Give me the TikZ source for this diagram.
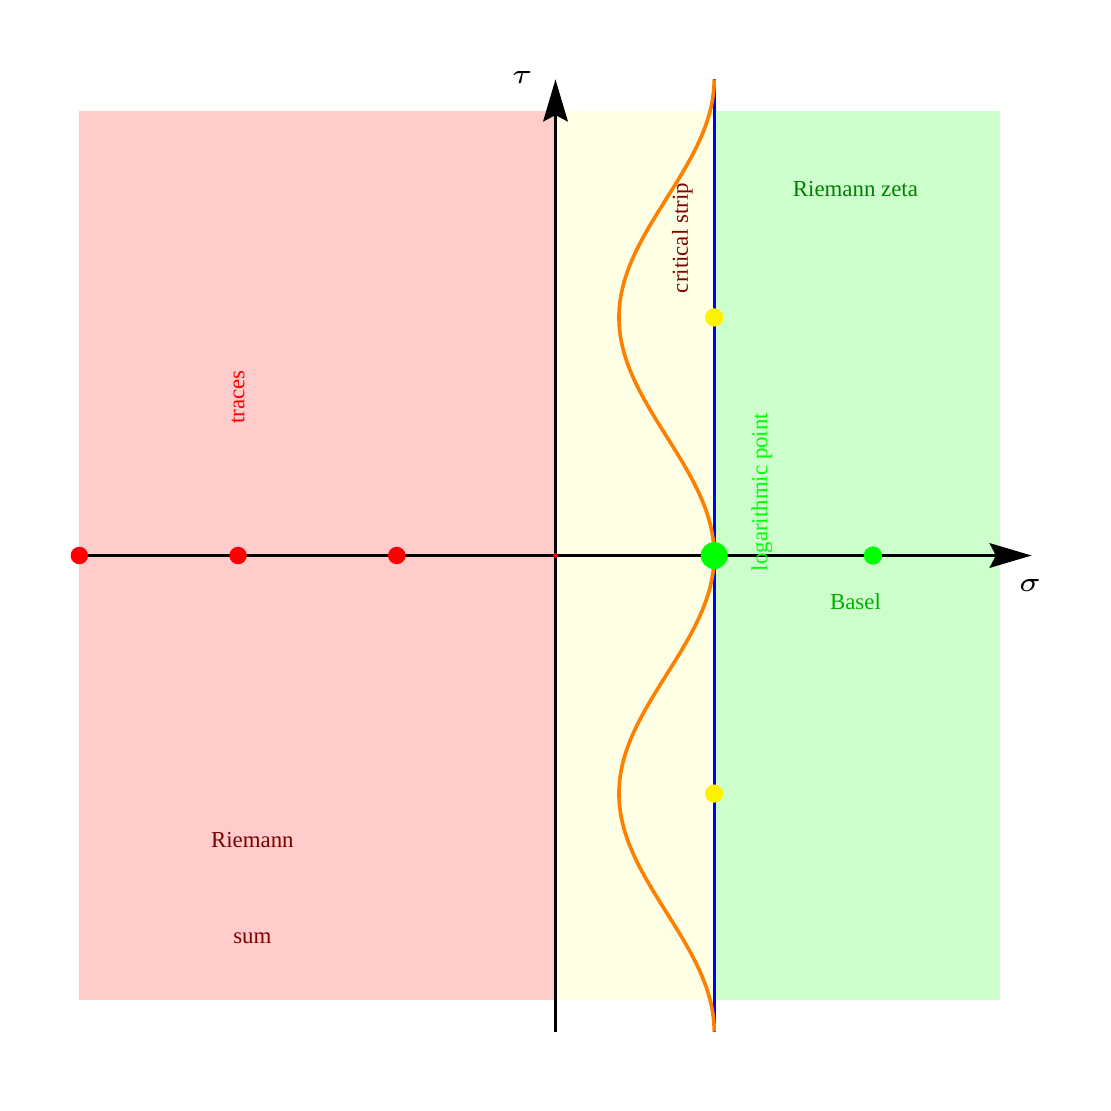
\documentclass[tikz,border=0pt]{standalone}
\usepackage{fontspec}
\setmainfont{Liberation Serif}
\usetikzlibrary{arrows.meta}
\definecolor{regred}{HTML}{FFCCCC}
\definecolor{regyel}{HTML}{FFFFE6}
\definecolor{reggrn}{HTML}{CCFFCC}
\definecolor{orng}{HTML}{FF8000}
\definecolor{dred}{HTML}{800000}
\definecolor{dgrn}{HTML}{008000}
\definecolor{mgrn}{HTML}{00B000}
\begin{document}
\begin{tikzpicture}[
  lbl/.style={font=\fontsize{4.1}{5}\selectfont, inner sep=0pt},
  mlbl/.style={font=\fontsize{4.6}{5}\selectfont, inner sep=0pt},
  dot/.style={circle, inner sep=0pt, minimum size=#1},
  axis/.style={line width=0.5pt, -{Stealth[length=0.265cm, width=0.155cm, inset=0.04cm]}}
]
\useasboundingbox (-3.5,-3.5) rectangle (3.5,3.5);
\fill[regred] (-3,-2.8) rectangle (0,2.8);
\fill[regyel] (0,-2.8) rectangle (1,2.8);
\fill[reggrn] (1,-2.8) rectangle (2.8,2.8);
\coordinate (xs) at (-3,0);
\coordinate (xe) at (3,0);
\coordinate (ys) at (0,-3);
\coordinate (ye) at (0,3);
\coordinate (bs) at (1,-3);
\coordinate (be) at (1,3);
\draw[line width=0.6pt] (xs) -- (2.8,0);
\draw[axis] (2.7,0) -- (xe);
\draw[line width=0.4pt] (ys) -- (0,2.8);
\draw[axis] (0,2.7) -- (ye);
\draw[blue, line width=0.6pt] (bs) -- (be);
\draw[orng, line width=0.65pt, domain=-3:3, samples=150, smooth, variable=\t]
  plot ({0.7+0.3*cos(120*\t)}, {\t});
\node[dot=0.11cm, fill=red] (m3) at (-3,0) {};
\node[dot=0.11cm, fill=red] (m2) at (-2,0) {};
\node[dot=0.11cm, fill=red] (m1) at (-1,0) {};
\node[dot=0.03cm, fill=red] (o) at (0,0) {};
\node[dot=0.17cm, fill=green] (lp) at (1,0) {};
\node[dot=0.115cm, fill=green] (ba) at (2,0) {};
\node[dot=0.115cm, fill=yellow] (y1) at (1,1.5) {};
\node[dot=0.115cm, fill=yellow] (y2) at (1,-1.5) {};
\node[mlbl] (tau) at (-0.21,3.01) {$\tau$};
\node[mlbl] (sig) at (2.99,-0.19) {$\sigma$};
\node[lbl, text=dgrn] (rz) at (1.89,2.31) {Riemann zeta};
\node[lbl, text=dred, rotate=90] (cs) at (0.80,2.0) {critical strip};
\node[lbl, text=red, rotate=90] (tr) at (-2.0,1.0) {traces};
\node[lbl, text=green, rotate=90] (lgp) at (1.30,0.40) {logarithmic point};
\node[lbl, text=mgrn] (bsl) at (1.89,-0.29) {Basel};
\node[lbl, text=dred] (rie) at (-1.91,-1.79) {Riemann};
\node[lbl, text=dred] (sum) at (-1.91,-2.41) {sum};
\end{tikzpicture}
\end{document}
